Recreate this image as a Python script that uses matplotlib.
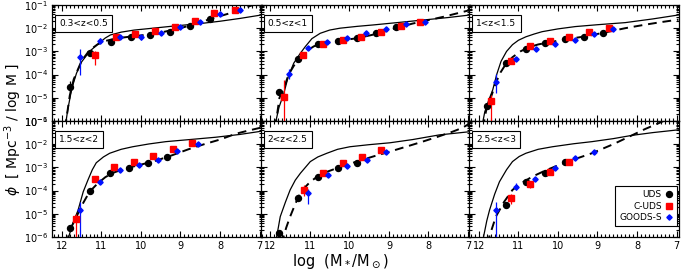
import numpy as np
import matplotlib
matplotlib.use("Agg")
import matplotlib.pyplot as plt
from matplotlib.ticker import LogLocator, MultipleLocator, NullFormatter, FixedLocator
from matplotlib.lines import Line2D

panel_labels = ['0.3<z<0.5', '0.5<z<1', '1<z<1.5', '1.5<z<2', '2<z<2.5', '2.5<z<3']
xticks = [12, 11, 10, 9, 8, 7]

# UDS (black circles): log stellar mass, log phi, symmetric error (dex)
uds_mass = [
    [11.79, 11.30, 10.77, 10.26, 9.76, 9.27, 8.76, 8.25],
    [11.77, 11.29, 10.79, 10.28, 9.81, 9.32, 8.82],
    [11.80, 11.32, 10.81, 10.33, 9.83, 9.33, 8.85],
    [11.80, 11.30, 10.79, 10.31, 9.81, 9.33],
    [11.77, 11.29, 10.79, 10.30, 9.81],
    [11.32, 10.81, 10.33, 9.83],
]
uds_logphi = [
    [-4.52, -3.06, -2.58, -2.39, -2.29, -2.15, -1.89, -1.60],
    [-4.74, -3.34, -2.69, -2.54, -2.44, -2.22, -1.96],
    [-5.35, -3.51, -2.91, -2.62, -2.47, -2.37, -2.19],
    [-5.63, -4.00, -3.25, -3.01, -2.80, -2.54],
    [-5.84, -4.30, -3.43, -3.04, -2.82],
    [-4.62, -3.64, -3.25, -2.78],
]
uds_err = [
    [0.25, 0.06, 0.05, 0.04, 0.04, 0.04, 0.04, 0.04],
    [0.12, 0.06, 0.05, 0.04, 0.04, 0.04, 0.04],
    [0.10, 0.06, 0.05, 0.04, 0.04, 0.04, 0.04],
    [0.10, 0.06, 0.05, 0.04, 0.04, 0.04],
    [0.12, 0.06, 0.05, 0.04, 0.04],
    [0.10, 0.06, 0.05, 0.04],
]

# C-UDS (red squares)
cuds_mass = [
    [11.15, 10.64, 10.15, 9.64, 9.15, 8.63, 8.14, 7.62],
    [11.66, 11.18, 10.68, 10.17, 9.70, 9.20, 8.69, 8.21],
    [11.69, 11.19, 10.70, 10.21, 9.71, 9.22, 8.72],
    [11.65, 11.17, 10.67, 10.18, 9.69, 9.20, 8.70],
    [11.16, 10.66, 10.17, 9.68, 9.19],
    [11.19, 10.70, 10.21, 9.71],
]
cuds_logphi = [
    [-3.15, -2.39, -2.25, -2.11, -1.94, -1.68, -1.33, -1.22],
    [-4.95, -3.16, -2.68, -2.51, -2.39, -2.18, -1.89, -1.75],
    [-5.12, -3.41, -2.75, -2.55, -2.38, -2.18, -1.98],
    [-5.22, -3.50, -3.00, -2.78, -2.50, -2.22, -1.96],
    [-3.97, -3.25, -2.82, -2.54, -2.25],
    [-4.33, -3.73, -3.21, -2.75],
]
cuds_err_lo = [
    [0.45, 0.08, 0.06, 0.06, 0.06, 0.06, 0.06, 0.06],
    [3.00, 0.08, 0.06, 0.06, 0.06, 0.06, 0.06, 0.06],
    [3.00, 0.10, 0.06, 0.06, 0.06, 0.06, 0.06],
    [3.00, 0.10, 0.06, 0.06, 0.06, 0.06, 0.06],
    [0.25, 0.08, 0.06, 0.06, 0.06],
    [0.25, 0.15, 0.06, 0.06],
]
cuds_err_hi = [
    [0.17, 0.06, 0.06, 0.06, 0.06, 0.06, 0.06, 0.06],
    [0.72, 0.06, 0.06, 0.06, 0.06, 0.06, 0.06, 0.06],
    [0.25, 0.08, 0.06, 0.06, 0.06, 0.06, 0.06],
    [0.20, 0.08, 0.06, 0.06, 0.06, 0.06, 0.06],
    [0.20, 0.08, 0.06, 0.06, 0.06],
    [0.20, 0.12, 0.06, 0.06],
]

# GOODS-S (blue diamonds)
goods_mass = [
    [11.54, 11.03, 10.53, 10.00, 9.50, 9.02, 8.50, 7.99, 7.50],
    [11.54, 11.04, 10.56, 10.06, 9.57, 9.07, 8.58, 8.08],
    [11.57, 11.06, 10.56, 10.08, 9.58, 9.10, 8.60],
    [11.55, 11.04, 10.54, 10.06, 9.56, 9.08, 8.56],
    [11.04, 10.53, 10.06, 9.55, 9.07],
    [11.57, 11.06, 10.58, 10.08, 9.58, 9.10],
]
goods_logphi = [
    [-3.25, -2.54, -2.37, -2.39, -2.19, -1.96, -1.75, -1.39, -1.22],
    [-3.97, -2.87, -2.58, -2.44, -2.22, -2.03, -1.82, -1.72],
    [-4.31, -3.34, -2.91, -2.68, -2.51, -2.26, -2.05],
    [-4.84, -3.64, -3.11, -2.90, -2.68, -2.29, -2.00],
    [-4.12, -3.33, -2.94, -2.68, -2.32],
    [-4.84, -3.83, -3.51, -3.04, -2.61, -2.32],
]
goods_err_lo = [
    [0.75, 0.10, 0.06, 0.12, 0.06, 0.06, 0.06, 0.06, 0.06],
    [0.20, 0.08, 0.06, 0.06, 0.06, 0.06, 0.06, 0.06],
    [0.50, 0.08, 0.06, 0.06, 0.06, 0.06, 0.06],
    [3.00, 0.08, 0.06, 0.06, 0.06, 0.06, 0.06],
    [0.45, 0.08, 0.06, 0.06, 0.06],
    [3.00, 0.15, 0.08, 0.06, 0.06, 0.06],
]
goods_err_hi = [
    [0.35, 0.10, 0.06, 0.06, 0.06, 0.06, 0.06, 0.06, 0.06],
    [0.20, 0.08, 0.06, 0.06, 0.06, 0.06, 0.06, 0.06],
    [0.35, 0.08, 0.06, 0.06, 0.06, 0.06, 0.06],
    [0.35, 0.08, 0.06, 0.06, 0.06, 0.06, 0.06],
    [0.20, 0.08, 0.06, 0.06, 0.06],
    [0.36, 0.15, 0.08, 0.06, 0.06, 0.06],
]

# Solid line (model)
model_mass = [
    [11.92, 11.85, 11.75, 11.63, 11.50, 11.30, 11.03, 10.90, 10.77, 10.50, 10.17, 9.70, 9.30, 8.45, 8.00, 7.50, 6.95],
    [11.90, 11.78, 11.66, 11.55, 11.41, 11.25, 11.12, 10.95, 10.74, 10.50, 10.24, 9.80, 9.40, 8.80, 8.15, 7.50, 6.95],
    [11.93, 11.85, 11.75, 11.65, 11.55, 11.44, 11.30, 11.15, 11.00, 10.81, 10.60, 10.40, 10.00, 9.56, 9.00, 8.30, 7.60, 6.95],
    [11.88, 11.84, 11.72, 11.59, 11.46, 11.34, 11.23, 11.13, 10.95, 10.79, 10.50, 10.21, 9.80, 9.37, 8.70, 8.11, 7.50, 6.95],
    [11.88, 11.85, 11.80, 11.75, 11.62, 11.50, 11.37, 11.24, 11.10, 10.99, 10.80, 10.57, 10.30, 9.99, 9.50, 8.98, 8.40, 7.73, 6.95],
    [11.93, 11.89, 11.80, 11.73, 11.60, 11.48, 11.30, 11.15, 10.98, 10.81, 10.50, 10.14, 9.60, 9.14, 8.60, 8.13, 7.60, 6.95],
]
model_logphi = [
    [-6.30, -5.50, -4.60, -3.94, -3.45, -3.00, -2.60, -2.42, -2.29, -2.17, -2.08, -2.00, -1.93, -1.79, -1.70, -1.58, -1.43],
    [-6.30, -5.40, -4.81, -4.10, -3.51, -3.10, -2.80, -2.45, -2.22, -2.08, -2.00, -1.92, -1.86, -1.76, -1.65, -1.54, -1.43],
    [-6.30, -5.60, -5.10, -4.66, -4.00, -3.43, -3.00, -2.71, -2.52, -2.37, -2.25, -2.15, -2.03, -1.93, -1.85, -1.76, -1.60, -1.43],
    [-6.30, -6.06, -5.40, -4.84, -4.05, -3.54, -3.10, -2.80, -2.55, -2.39, -2.22, -2.11, -1.99, -1.89, -1.79, -1.70, -1.58, -1.44],
    [-6.30, -6.06, -5.60, -5.12, -4.50, -3.97, -3.55, -3.25, -2.97, -2.75, -2.55, -2.39, -2.22, -2.11, -2.02, -1.94, -1.80, -1.60, -1.46],
    [-6.30, -6.06, -5.30, -4.84, -4.15, -3.62, -3.10, -2.75, -2.53, -2.39, -2.22, -2.11, -1.98, -1.89, -1.76, -1.62, -1.50, -1.38],
]

# Dashed line (fit)
fit_mass = [
    [11.92, 11.80, 11.70, 11.50, 11.30, 11.10, 10.90, 10.60, 10.20, 9.80, 9.40, 9.00, 8.60, 8.20, 7.80, 7.50, 7.20, 6.95],
    [11.88, 11.77, 11.66, 11.54, 11.40, 11.29, 11.10, 10.90, 10.70, 10.30, 9.80, 9.30, 8.80, 8.40, 8.00, 7.60, 7.30, 6.95],
    [11.90, 11.80, 11.69, 11.57, 11.45, 11.32, 11.15, 10.95, 10.75, 10.50, 10.20, 9.80, 9.30, 8.80, 8.30, 7.80, 7.40, 6.95],
    [11.88, 11.80, 11.65, 11.50, 11.30, 11.10, 10.90, 10.70, 10.40, 10.00, 9.60, 9.20, 8.80, 8.40, 8.00, 7.60, 7.30, 6.95],
    [11.72, 11.60, 11.50, 11.40, 11.29, 11.15, 10.99, 10.80, 10.57, 10.20, 9.82, 9.40, 8.98, 8.55, 8.15, 7.75, 7.39, 7.15, 6.95],
    [11.78, 11.75, 11.57, 11.36, 11.15, 10.90, 10.65, 10.30, 9.98, 9.55, 9.14, 8.60, 8.13, 7.80, 7.46, 7.30],
]
fit_logphi = [
    [-6.30, -4.90, -4.20, -3.40, -2.95, -2.70, -2.55, -2.43, -2.35, -2.27, -2.15, -2.00, -1.80, -1.58, -1.38, -1.20, -1.02, -0.90],
    [-6.30, -5.00, -4.60, -4.00, -3.60, -3.35, -3.00, -2.78, -2.67, -2.55, -2.43, -2.24, -1.98, -1.80, -1.65, -1.50, -1.37, -1.22],
    [-6.30, -5.40, -4.95, -4.35, -3.90, -3.55, -3.25, -3.00, -2.83, -2.70, -2.60, -2.48, -2.35, -2.18, -2.00, -1.85, -1.74, -1.63],
    [-6.30, -5.70, -5.20, -4.65, -4.05, -3.70, -3.42, -3.23, -3.05, -2.88, -2.70, -2.47, -2.22, -2.00, -1.80, -1.55, -1.42, -1.28],
    [-6.30, -5.60, -5.12, -4.70, -4.26, -3.90, -3.62, -3.38, -3.19, -2.96, -2.75, -2.53, -2.32, -2.10, -1.89, -1.67, -1.46, -1.30, -1.10],
    [-6.30, -6.06, -5.12, -4.48, -3.97, -3.65, -3.40, -3.12, -2.90, -2.63, -2.39, -2.00, -1.62, -1.35, -1.10, -0.98],
]

W, H = 681, 271
fig = plt.figure(figsize=(W / 100, H / 100), dpi=100)
lefts = [52, 260.5, 469]
pw = 209.5
tops = [5, 121]
ph = 116


def yerr(logv, lo, hi):
    logv = np.array(logv); lo = np.array(lo); hi = np.array(hi)
    v = 10 ** logv
    return [v - 10 ** (logv - lo), 10 ** (logv + hi) - v]


for i in range(6):
    r, c = divmod(i, 3)
    ax = fig.add_axes([lefts[c] / W, 1 - (tops[r] + ph) / H, pw / W, ph / H])
    ax.set_yscale('log')
    ax.plot(model_mass[i], 10 ** np.array(model_logphi[i]), color='black', lw=0.9, zorder=2)
    ax.plot(fit_mass[i], 10 ** np.array(fit_logphi[i]), color='black', lw=1.4,
            ls=(0, (4.5, 3)), zorder=2)
    ax.errorbar(uds_mass[i], 10 ** np.array(uds_logphi[i]),
                yerr=yerr(uds_logphi[i], uds_err[i], uds_err[i]),
                fmt='o', color='black', ms=4.3, elinewidth=0.9, capsize=0, zorder=4)
    ax.errorbar(cuds_mass[i], 10 ** np.array(cuds_logphi[i]),
                yerr=yerr(cuds_logphi[i], cuds_err_lo[i], cuds_err_hi[i]),
                fmt='s', color='#ff0000', ms=4.1, elinewidth=0.9, capsize=0, zorder=4)
    ax.errorbar(goods_mass[i], 10 ** np.array(goods_logphi[i]),
                yerr=yerr(goods_logphi[i], goods_err_lo[i], goods_err_hi[i]),
                fmt='D', color='#0010ff', ms=2.7, elinewidth=0.9, capsize=0, zorder=4)
    ax.set_xlim(12.25, 6.95)
    ax.set_ylim(1e-6, 1e-1)
    ax.xaxis.set_major_locator(FixedLocator(xticks))
    ax.xaxis.set_minor_locator(MultipleLocator(0.1))
    ax.yaxis.set_major_locator(LogLocator(base=10, numticks=10))
    ax.yaxis.set_minor_locator(LogLocator(base=10, subs=np.arange(2, 10), numticks=20))
    ax.yaxis.set_minor_formatter(NullFormatter())
    ax.tick_params(which='both', direction='in', top=True, right=True, labelsize=7,
                   width=0.8, pad=3)
    ax.tick_params(which='major', length=4)
    ax.tick_params(which='minor', length=2)
    if r == 0:
        ax.set_xticklabels([])
    else:
        ax.set_xticklabels([str(t) for t in xticks])
    if c != 0:
        ax.set_yticklabels([])
    for s in ax.spines.values():
        s.set_linewidth(0.9)
    ax.text(0.035, 0.84, panel_labels[i], transform=ax.transAxes, fontsize=6.5,
            ha='left', va='center',
            bbox=dict(boxstyle='square,pad=0.45', fc='white', ec='black', lw=0.8), zorder=6)
    if i == 5:
        handles = [
            Line2D([], [], ls='none', marker='o', color='black', ms=4.3),
            Line2D([], [], ls='none', marker='s', color='#ff0000', ms=4.1),
            Line2D([], [], ls='none', marker='D', color='#0010ff', ms=2.7),
        ]
        leg = ax.legend(handles, ['UDS', 'C-UDS', 'GOODS-S'], loc='lower right',
                        bbox_to_anchor=(1.0, 0.075), markerfirst=False, fontsize=6.5,
                        frameon=True, fancybox=False, edgecolor='black', framealpha=1,
                        handlelength=0.8, handletextpad=0.4, borderpad=0.45,
                        labelspacing=0.3, borderaxespad=0.2)
        leg.get_frame().set_linewidth(0.8)
        leg.set_zorder(7)

fig.text(0.019, 0.52, r'$\phi$  [ Mpc$^{-3}$ / log M ]', rotation=90,
         ha='center', va='center', fontsize=10)
fig.text((lefts[0] + 3 * pw) / 2 / W, 1 - 262 / H, r'log  (M$_*$/M$_\odot$)',
         ha='center', va='center', fontsize=10.5)

fig.savefig('out.png', dpi=100)
